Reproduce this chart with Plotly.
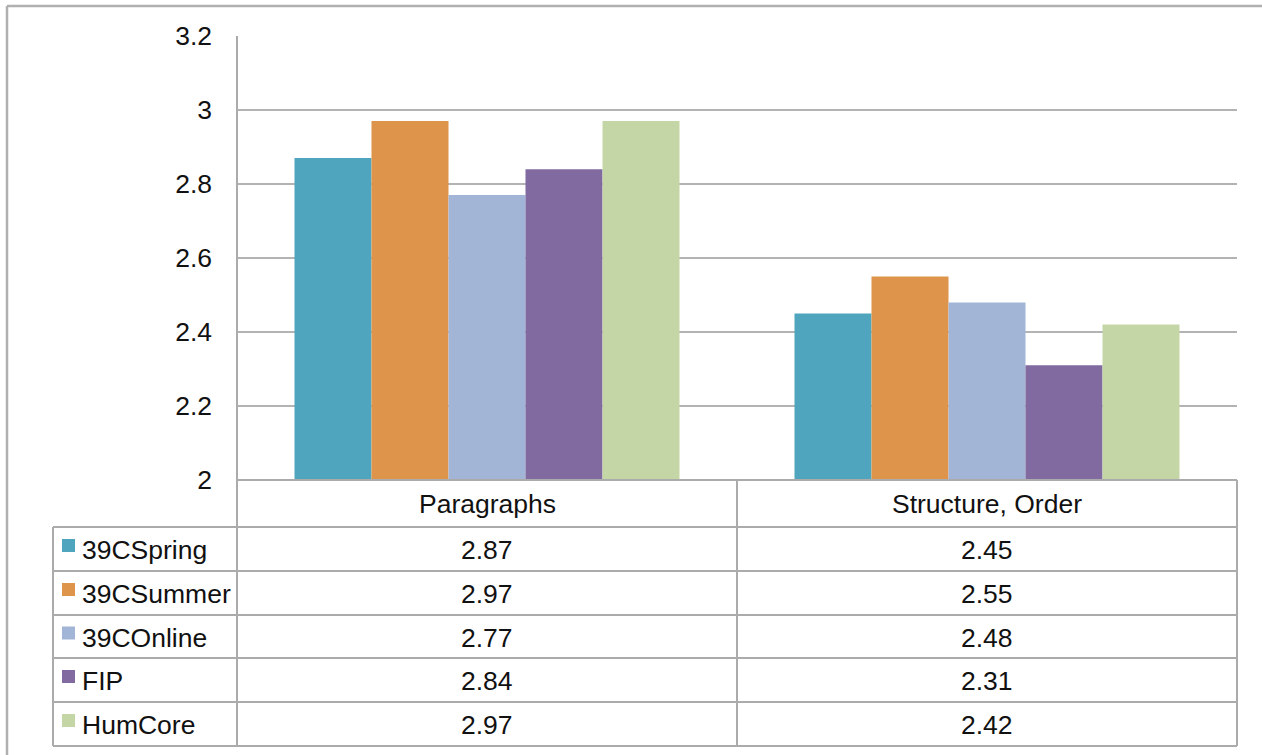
import plotly.graph_objects as go

# ---- data ----
categories = ["Paragraphs", "Structure, Order"]
series_names = ["39CSpring", "39CSummer", "39COnline", "FIP", "HumCore"]
paragraphs = [2.87, 2.97, 2.77, 2.84, 2.97]
structure_order = [2.45, 2.55, 2.48, 2.31, 2.42]
colors = ["#4FA5BD", "#DE954B", "#A3B5D7", "#806AA0", "#C5D6A6"]

W, H = 1262, 755
FONT = "Liberation Sans, Arial, Helvetica, sans-serif"
FS = 26.5
TXT = "#111111"
LINE = "#ababab"


def px(x):
    return x / W


def py(y):
    return 1 - y / H


# plot-area and table geometry (pixels)
LEFT, RIGHT, TOP, AXIS_Y = 237, 1237, 36, 480
COL_SPLIT = 737
TABLE_LEFT = 53
ROW_EDGES = [480, 527, 571, 615, 658, 702, 746]

fig = go.Figure()
for i, name in enumerate(series_names):
    fig.add_trace(go.Bar(
        x=categories,
        y=[paragraphs[i], structure_order[i]],
        name=name,
        marker=dict(color=colors[i], line=dict(width=0)),
        showlegend=False,
    ))

shapes = []


def hline(y, x0, x1, w=2, c=LINE):
    shapes.append(dict(type="line", xref="paper", yref="paper",
                       x0=px(x0), x1=px(x1), y0=py(y), y1=py(y),
                       line=dict(color=c, width=w), layer="above"))


def vline(x, y0, y1, w=2, c=LINE):
    shapes.append(dict(type="line", xref="paper", yref="paper",
                       x0=px(x), x1=px(x), y0=py(y0), y1=py(y1),
                       line=dict(color=c, width=w), layer="above"))


# outer chart frame (top and left edges)
hline(6, 7, W, w=2.5, c="#b0b0b0")
vline(7, 6, H, w=2.5, c="#b0b0b0")

# data table grid
hline(ROW_EDGES[0], LEFT, RIGHT)
for y in ROW_EDGES[1:]:
    hline(y, TABLE_LEFT, RIGHT)
vline(LEFT, TOP, ROW_EDGES[-1])
vline(COL_SPLIT, ROW_EDGES[0], ROW_EDGES[-1])
vline(RIGHT, ROW_EDGES[0], ROW_EDGES[-1])
vline(TABLE_LEFT, ROW_EDGES[1], ROW_EDGES[-1])

annotations = []
col_centers = [(LEFT + COL_SPLIT) / 2, (COL_SPLIT + RIGHT) / 2]

# header row: category names
for cx, cat in zip(col_centers, categories):
    annotations.append(dict(
        text=cat, xref="paper", yref="paper", x=px(cx),
        y=py((ROW_EDGES[0] + ROW_EDGES[1]) / 2 + 1),
        xanchor="center", yanchor="middle", showarrow=False,
        font=dict(family=FONT, size=FS, color=TXT)))

# series rows: legend key + values
for i, name in enumerate(series_names):
    top, bot = ROW_EDGES[i + 1], ROW_EDGES[i + 2]
    mid = (top + bot) / 2
    shapes.append(dict(type="rect", xref="paper", yref="paper",
                       x0=px(62), x1=px(75), y0=py(mid - 10), y1=py(mid + 3),
                       fillcolor=colors[i], line=dict(width=0), layer="above"))
    annotations.append(dict(
        text=name, xref="paper", yref="paper", x=px(80), y=py(mid + 1),
        xanchor="left", yanchor="middle", showarrow=False,
        font=dict(family=FONT, size=FS, color=TXT)))
    for cx, val in zip(col_centers, [paragraphs[i], structure_order[i]]):
        annotations.append(dict(
            text=f"{val:.2f}", xref="paper", yref="paper", x=px(cx),
            y=py(mid + 1), xanchor="center", yanchor="middle",
            showarrow=False, font=dict(family=FONT, size=FS, color=TXT)))

fig.update_layout(
    width=W, height=H,
    margin=dict(l=0, r=0, t=0, b=0, pad=0, autoexpand=False),
    paper_bgcolor="white", plot_bgcolor="white",
    barmode="group", bargap=0.23, bargroupgap=0,
    font=dict(family=FONT, size=FS, color=TXT),
    shapes=shapes, annotations=annotations,
    xaxis=dict(domain=[px(LEFT), px(RIGHT)], showticklabels=False,
               showgrid=False, showline=False, zeroline=False,
               range=[-0.5, 1.5], fixedrange=True, automargin=False),
    yaxis=dict(domain=[py(AXIS_Y), py(TOP)], range=[2, 3.2],
               tick0=2, dtick=0.2, showgrid=True, gridcolor="#b3b3b3",
               gridwidth=2, zeroline=False, showline=False, ticks="",
               ticklabelstandoff=24, automargin=False,
               tickfont=dict(family=FONT, size=FS, color=TXT),
               fixedrange=True),
)

fig.write_html("out.html")
